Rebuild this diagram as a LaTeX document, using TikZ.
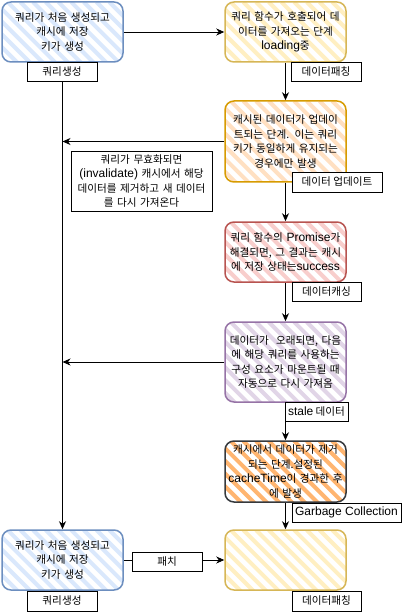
\documentclass[tikz,border=0pt]{standalone}
\usepackage{fontspec}
\setmainfont{Noto Sans CJK KR}
\newfontfamily\lat{Liberation Sans}[Scale=1.132]
\usetikzlibrary{arrows.meta}
\definecolor{bS}{HTML}{6C8EBF}\definecolor{bF}{HTML}{DAE8FC}
\definecolor{yS}{HTML}{D6B656}\definecolor{yF}{HTML}{FFEFC2}
\definecolor{oS}{HTML}{D79B00}\definecolor{oF}{HTML}{FFE0C2}
\definecolor{rS}{HTML}{B85450}\definecolor{rF}{HTML}{F8CECC}
\definecolor{pS}{HTML}{9673A6}\definecolor{pF}{HTML}{E1D5E7}
\definecolor{gS}{HTML}{36393D}\definecolor{gF}{HTML}{FFB570}
\begin{document}
\begin{tikzpicture}[x=1pt,y=-1pt,
  hatch/.style={path picture={\foreach \k in {-96,-83.3,...,130}{\draw[line width=4pt,draw=#1] ([xshift=\k pt]path picture bounding box.north west) -- ++(110,110);}}},
  stage/.style={draw=#1S, line width=1.5pt, rounded corners=9pt, minimum width=121pt, inner sep=0pt, text width=121pt, align=center, font=\fontsize{10.6pt}{14.5pt}\selectfont, hatch=#1F},
  tag/.style={draw=black, line width=0.9pt, fill=white, inner sep=0pt, minimum height=19pt, align=center, font=\fontsize{10.6pt}{14.5pt}\selectfont},
  note/.style={draw=black, line width=0.9pt, inner sep=0pt, align=center, font=\fontsize{10.6pt}{14.5pt}\selectfont},
  arr/.style={-{Stealth[length=8pt,width=7pt,inset=2.5pt]}, line width=0.9pt}]
\useasboundingbox (0,0) rectangle (402,612);
\fill[white] (0,0) rectangle (402,612);
% stage boxes
\node[stage=b, minimum height=60pt] (B1) at (62.5,32) {쿼리가 처음 생성되고\\캐시에 저장\\키가 생성};
\node[stage=y, minimum height=60pt] (B2) at (285.5,32) {쿼리 함수가 호출되어 데\\이터를 가져오는 단계\\{\lat loading}중};
\node[stage=o, minimum height=81pt] (B3) at (285.5,141.5) {캐시된 데이터가 업데이\\트되는 단계. 이는 쿼리\\키가 동일하게 유지되는\\경우에만 발생};
\node[stage=r, minimum height=60pt] (B4) at (285.5,252) {쿼리 함수의 {\lat Promise}가\\해결되면, 그 결과는 캐시\\에 저장 상태는{\lat success}};
\node[stage=p, minimum height=80pt] (B5) at (285.5,362) {데이터가\ \ 오래되면, 다음\\에 해당 쿼리를 사용하는\\구성 요소가 마운트될 때\\자동으로 다시 가져옴};
\node[stage=g, minimum height=61pt] (B6) at (285.5,471.5) {캐시에서 데이터가 제거\\되는 단계.설정된\\{\lat cacheTime}이 경과한 후\\에 발생};
\node[stage=b, minimum height=60pt] (B7) at (62.5,560) {쿼리가 처음 생성되고\\캐시에 저장\\키가 생성};
\node[stage=y, minimum height=60pt] (B8) at (285.5,560) {};
% note
\node[note, minimum width=141pt, minimum height=60pt, text width=141pt] (T) at (141.5,181) {쿼리가 무효화되면\\{\lat (invalidate)} 캐시에서 해당\\데이터를 제거하고 새 데이터\\를 다시 가져온다};
% junctions on the left line
\coordinate (J1) at (B1.south |- B3.west);
\coordinate (J2) at (B1.south |- B5.west);
% connectors
\draw[arr] (B1) -- (B2);
\draw[arr] (B2) -- (B3);
\draw[arr] (B3) -- (B4);
\draw[arr] (B4) -- (B5);
\draw[arr] (B5) -- (B6);
\draw[arr] (B6) -- (B8);
\draw[arr] (B1) -- (B7);
\draw[arr] (B3.west) -- (J1);
\draw[arr] (B5.west) -- (J2);
\draw[arr] (B7) -- (B8);
% labels
\node[tag, minimum width=70pt] (L1) at (62,71.5) {쿼리생성};
\node[tag, minimum width=70pt] (L2) at (326,71.5) {데이터패칭};
\node[tag, minimum width=90pt, minimum height=20pt] (L3) at (337,182) {데이터 업데이트};
\node[tag, minimum width=69pt] (L4) at (326.5,291.5) {데이터캐싱};
\node[tag, minimum width=63pt] (L5) at (316.5,411.5) {{\lat stale} 데이터};
\node[tag, minimum width=109pt] (L6) at (346.5,512.5) {{\lat Garbage Collection}};
\node[tag, minimum width=70pt, minimum height=20pt] (L7) at (62,601) {쿼리생성};
\node[tag, minimum width=69pt, minimum height=20pt] (L8) at (326.5,601) {데이터패칭};
\node[tag, minimum width=70pt] (P) at (167,561.5) {패치};
\end{tikzpicture}
\end{document}
